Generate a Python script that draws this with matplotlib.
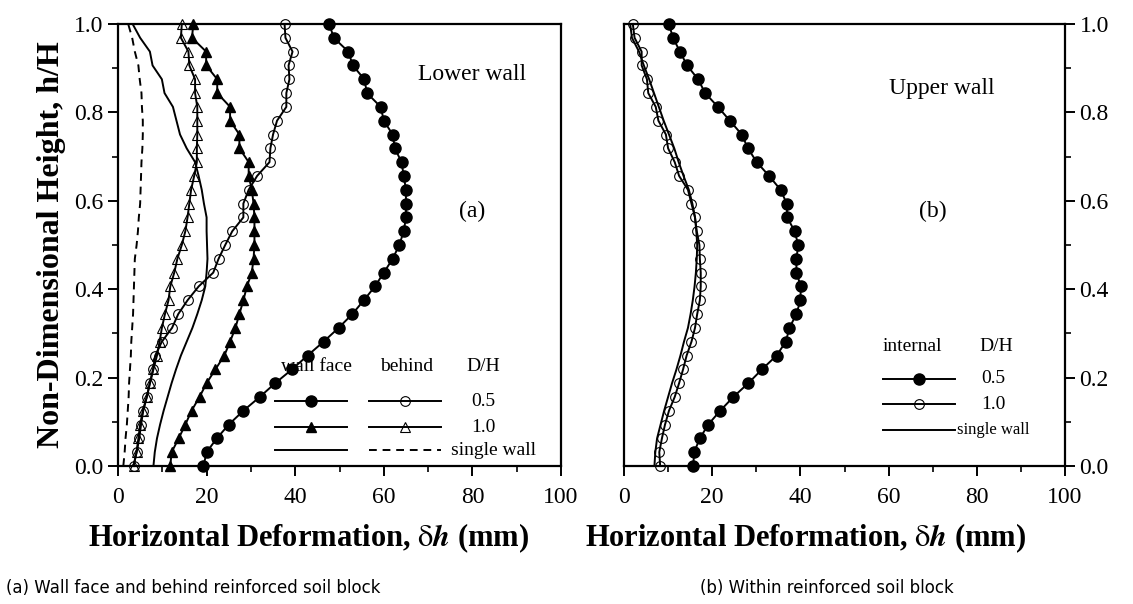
import matplotlib
matplotlib.use('Agg')
import matplotlib.pyplot as plt
from matplotlib.lines import Line2D
from matplotlib.ticker import MultipleLocator
import numpy as np

plt.rcParams['font.family'] = ['Liberation Serif', 'DejaVu Serif']
plt.rcParams['mathtext.fontset'] = 'stix'

# normalised height h/H of the measuring points (33 points, bottom to top)
height = np.linspace(0.0, 1.0, 33)

# (a) lower wall - wall face and behind the reinforced soil block, mm
face_05 = [19.3, 20.0, 22.3, 25.0, 28.3, 32.0, 35.5, 39.3, 42.8, 46.4, 49.8,
           52.9, 55.5, 58.0, 60.0, 62.0, 63.5, 64.5, 65.0, 65.0, 65.0, 64.5,
           64.0, 62.5, 62.0, 60.0, 59.3, 56.2, 55.6, 53.0, 52.0, 48.7, 47.7]
behind_05 = [3.5, 4.2, 4.8, 5.2, 5.7, 6.5, 7.2, 7.9, 8.4, 9.9, 12.2, 13.6,
             15.7, 18.2, 21.5, 22.7, 24.2, 25.8, 28.3, 28.3, 29.5, 31.4, 34.2,
             34.4, 35.0, 35.9, 38.0, 38.0, 38.7, 38.5, 39.4, 37.8, 37.6]
face_10 = [11.8, 12.1, 13.7, 15.2, 16.6, 18.4, 20.0, 22.0, 24.0, 25.3, 26.5,
           27.4, 28.3, 29.1, 30.2, 30.6, 30.8, 30.8, 30.8, 30.6, 30.2, 29.5,
           29.5, 27.4, 27.4, 25.3, 25.3, 22.4, 22.4, 19.9, 19.9, 16.7, 17.0]
behind_10 = [3.5, 4.2, 4.6, 5.0, 5.6, 6.5, 7.2, 8.0, 8.8, 9.4, 9.9, 10.6,
             11.4, 11.8, 12.7, 13.4, 14.4, 15.2, 15.7, 16.1, 16.5, 17.2, 17.8,
             17.8, 17.9, 17.9, 17.9, 17.4, 17.4, 16.1, 15.9, 14.2, 14.4]
face_single = [8.0, 8.3, 8.8, 9.5, 10.3, 11.2, 12.1, 13.1, 14.2, 15.5, 16.8,
               17.9, 18.9, 19.7, 20.0, 20.2, 20.1, 20.0, 20.0, 19.4, 18.9,
               18.2, 17.4, 15.5, 14.0, 13.2, 12.4, 10.5, 9.9, 7.8, 7.2, 5.0, 3.3]
behind_single = [1.2, 1.5, 1.7, 2.0, 2.2, 2.4, 2.5, 2.7, 2.9, 3.0, 3.2, 3.4,
                 3.5, 3.6, 3.7, 3.8, 4.2, 4.5, 4.7, 5.0, 5.1, 5.2, 5.3, 5.5,
                 5.6, 5.6, 5.4, 5.3, 4.9, 4.6, 3.8, 3.2, 2.3]

# (b) upper wall - within the reinforced soil block, mm
internal_05 = [15.7, 15.9, 17.2, 19.1, 21.8, 24.8, 28.2, 31.3, 34.6, 36.7,
               37.5, 39.1, 40.0, 40.1, 39.1, 39.1, 39.5, 38.7, 37.0, 36.9,
               35.5, 32.9, 30.1, 28.1, 26.7, 24.0, 21.3, 18.4, 16.8, 14.3,
               12.7, 11.1, 10.2]
internal_10 = [8.2, 8.0, 8.6, 9.3, 10.2, 11.5, 12.5, 13.4, 14.2, 15.3, 16.1,
               16.6, 17.2, 17.4, 17.4, 17.2, 17.1, 16.5, 16.1, 15.3, 14.5,
               12.5, 11.5, 10.0, 9.5, 7.8, 7.2, 5.5, 5.2, 4.0, 4.0, 2.4, 2.0]
internal_single = [6.9, 7.1, 7.5, 8.3, 9.1, 10.0, 10.9, 11.9, 12.8, 13.6, 14.5,
                   15.1, 15.6, 16.0, 16.3, 16.5, 16.6, 16.4, 16.1, 15.5, 14.7,
                   13.5, 12.4, 11.4, 10.2, 9.0, 7.9, 6.8, 5.7, 4.5, 3.4, 1.8, 1.4]

x_ticks = [0, 20, 40, 60, 80, 100]
y_ticks = [0.0, 0.2, 0.4, 0.6, 0.8, 1.0]

filled_circle = dict(color='black', lw=1.4, marker='o', ms=8, mfc='black', mec='black')
open_circle = dict(color='black', lw=1.4, marker='o', ms=7, mfc='none', mec='black', mew=0.8)
filled_tri = dict(color='black', lw=1.4, marker='^', ms=6.5, mfc='black', mec='black')
open_tri = dict(color='black', lw=1.4, marker='^', ms=6.5, mfc='none', mec='black', mew=0.8)
solid = dict(color='black', lw=1.4)
dashed = dict(color='black', lw=1.4, ls=(0, (4, 3)))

fig = plt.figure(figsize=(11.33, 6.04), dpi=100)
ax1 = fig.add_axes([118 / 1133, 1 - 466 / 604, 443 / 1133, 442 / 604])
ax2 = fig.add_axes([624 / 1133, 1 - 466 / 604, 441 / 1133, 442 / 604])

ax1.plot(face_05, height, clip_on=False, **filled_circle)
ax1.plot(behind_05, height, clip_on=False, **open_circle)
ax1.plot(face_10, height, clip_on=False, **filled_tri)
ax1.plot(behind_10, height, clip_on=False, **open_tri)
ax1.plot(face_single, height, **solid)
ax1.plot(behind_single, height, **dashed)

ax2.plot(internal_05, height, clip_on=False, **filled_circle)
ax2.plot(internal_10, height, clip_on=False, **open_circle)
ax2.plot(internal_single, height, **solid)

for ax in (ax1, ax2):
    ax.set_xlim(0, 100)
    ax.set_ylim(0, 1)
    ax.set_xticks(x_ticks)
    ax.set_yticks(y_ticks)
    ax.xaxis.set_minor_locator(MultipleLocator(10))
    ax.yaxis.set_minor_locator(MultipleLocator(0.1))
    ax.set_yticklabels([f'{v:.1f}' for v in y_ticks])
    ax.tick_params(which='major', direction='out', length=7, width=1.4, labelsize=17)
    ax.tick_params(which='minor', direction='out', length=4, width=1.2)
    ax.tick_params(axis='x', pad=8)
    for s in ax.spines.values():
        s.set_linewidth(1.6)

ax1.tick_params(axis='y', which='both', left=True, right=False)
ax2.tick_params(axis='y', which='both', left=False, right=True,
                labelleft=False, labelright=True)

ax1.set_ylabel('Non-Dimensional Height, h/H', fontsize=23, fontweight='bold', labelpad=6)

xlabel = r'Horizontal Deformation, $\mathrm{δ}\mathbfit{h}$ (mm)'
fig.text(309 / 1133, 1 - 538 / 604, xlabel, ha='center', va='center', fontsize=22, fontweight='bold')
fig.text(806 / 1133, 1 - 538 / 604, xlabel, ha='center', va='center', fontsize=22, fontweight='bold')

cap_font = ['Liberation Sans Narrow', 'DejaVu Sans Condensed', 'DejaVu Sans']
fig.text(6 / 1133, 1 - 588 / 604, '(a) Wall face and behind reinforced soil block',
         ha='left', va='center', fontsize=12, family=cap_font)
fig.text(700 / 1133, 1 - 588 / 604, '(b) Within reinforced soil block',
         ha='left', va='center', fontsize=12, family=cap_font)

# panel annotations
ax1.text(0.80, 0.885, 'Lower wall', transform=ax1.transAxes, ha='center', va='center', fontsize=17)
ax1.text(0.80, 0.575, '(a)', transform=ax1.transAxes, ha='center', va='center', fontsize=17)
ax2.text(0.72, 0.855, 'Upper wall', transform=ax2.transAxes, ha='center', va='center', fontsize=17)
ax2.text(0.70, 0.575, '(b)', transform=ax2.transAxes, ha='center', va='center', fontsize=17)


def legend_row(ax, x0, x1, y, style):
    # one legend sample: a short line with its marker in the middle
    line_style = {k: v for k, v in style.items() if k not in ('marker', 'ms', 'mfc', 'mec', 'mew')}
    ax.add_line(Line2D([x0, x1], [y, y], transform=ax.transAxes, **line_style))
    if 'marker' in style:
        ax.add_line(Line2D([(x0 + x1) / 2], [y], transform=ax.transAxes, ls='none',
                           marker=style['marker'], ms=style['ms'], mfc=style['mfc'],
                           mec=style['mec'], mew=style.get('mew', 1.0)))


# hand-made legend, panel (a)
ax1.text(0.448, 0.224, 'wall face', transform=ax1.transAxes, ha='center', va='center', fontsize=14)
ax1.text(0.652, 0.224, 'behind', transform=ax1.transAxes, ha='center', va='center', fontsize=14)
ax1.text(0.825, 0.224, 'D/H', transform=ax1.transAxes, ha='center', va='center', fontsize=14)
rows_a = [(0.147, filled_circle, open_circle, '0.5'),
          (0.088, filled_tri, open_tri, '1.0'),
          (0.036, solid, dashed, 'single wall')]
for y, s_face, s_behind, label in rows_a:
    legend_row(ax1, 0.355, 0.518, y, s_face)
    legend_row(ax1, 0.566, 0.729, y, s_behind)
    if label == 'single wall':
        ax1.text(0.751, y, label, transform=ax1.transAxes, ha='left', va='center', fontsize=14)
    else:
        ax1.text(0.825, y, label, transform=ax1.transAxes, ha='center', va='center', fontsize=14)

# hand-made legend, panel (b)
ax2.text(0.655, 0.27, 'internal', transform=ax2.transAxes, ha='center', va='center', fontsize=14)
ax2.text(0.845, 0.27, 'D/H', transform=ax2.transAxes, ha='center', va='center', fontsize=14)
rows_b = [(0.197, filled_circle, '0.5'), (0.140, open_circle, '1.0'), (0.081, solid, 'single wall')]
for y, style, label in rows_b:
    legend_row(ax2, 0.587, 0.751, y, style)
    if label == 'single wall':
        ax2.text(0.755, y, label, transform=ax2.transAxes, ha='left', va='center', fontsize=12)
    else:
        ax2.text(0.837, y, label, transform=ax2.transAxes, ha='center', va='center', fontsize=14)

fig.savefig('out.png', dpi=100)
